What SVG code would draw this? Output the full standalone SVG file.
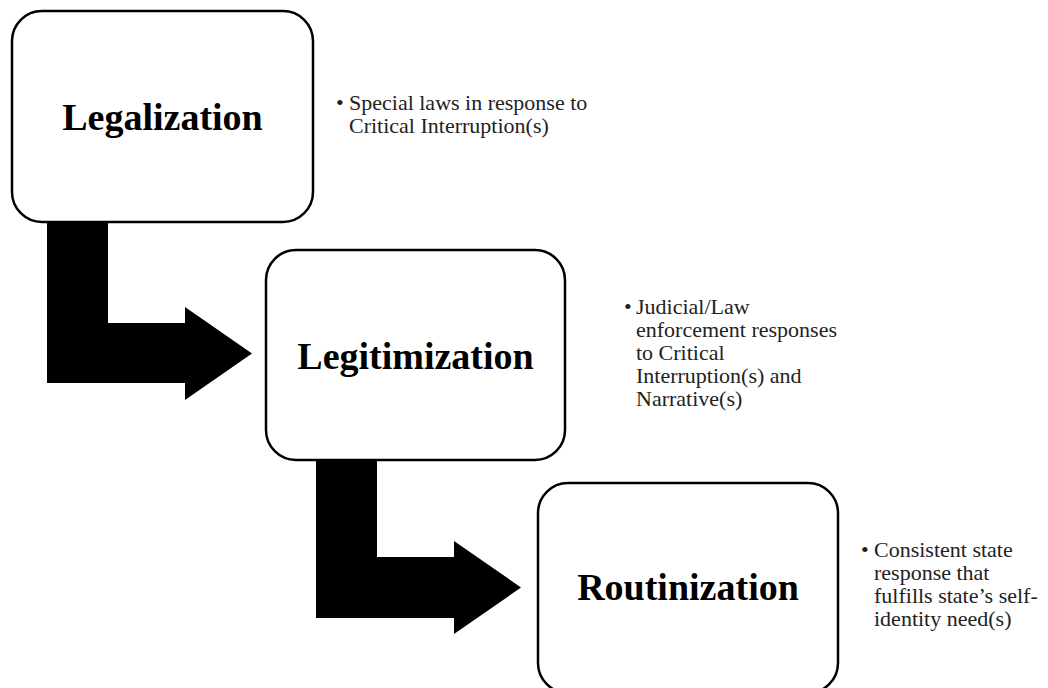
<svg xmlns="http://www.w3.org/2000/svg" width="1048" height="688" viewBox="0 0 1048 688">
<style>
.box{fill:#fff;stroke:#000;stroke-width:2.5}
.title{font-family:"Liberation Serif","Times New Roman",serif;font-weight:bold;font-size:38px;fill:#000;text-anchor:middle}
.note{font-family:"Liberation Serif","Times New Roman",serif;font-size:22px;fill:#222}
.arrow{fill:#000}
</style>
<rect width="1048" height="688" fill="#fff"/>
<g id="connectors">
<polygon class="arrow" points="47,222 108,222 108,323 185,323 185,307 252,353.5 185,400 185,383 47,383"/>
<polygon class="arrow" points="316,460 377,460 377,557 454,557 454,541 521,587.5 454,634 454,618 316,618"/>
</g>
<g id="legalization">
<rect class="box" x="12" y="11" width="301" height="211" rx="30"/>
<text class="title" x="162.5" y="130">Legalization</text>
</g>
<g id="legalization-note">
<text class="note" x="336" y="110">•</text>
<text class="note" x="349" y="110">Special laws in response to<tspan x="349" dy="23">Critical Interruption(s)</tspan></text>
</g>
<g id="legitimization">
<rect class="box" x="266" y="250" width="299" height="210" rx="30"/>
<text class="title" x="415.5" y="369">Legitimization</text>
</g>
<g id="legitimization-note">
<text class="note" x="624" y="314">•</text>
<text class="note" x="636" y="314">Judicial/Law<tspan x="636" dy="23">enforcement responses</tspan><tspan x="636" dy="23">to Critical</tspan><tspan x="636" dy="23">Interruption(s) and</tspan><tspan x="636" dy="23">Narrative(s)</tspan></text>
</g>
<g id="routinization">
<rect class="box" x="538" y="483" width="300" height="210" rx="30"/>
<text class="title" x="688" y="600">Routinization</text>
</g>
<g id="routinization-note">
<text class="note" x="861" y="557">•</text>
<text class="note" x="874" y="557">Consistent state<tspan x="874" dy="23">response that</tspan><tspan x="874" dy="23">fulfills state’s self-</tspan><tspan x="874" dy="23">identity need(s)</tspan></text>
</g>
</svg>
